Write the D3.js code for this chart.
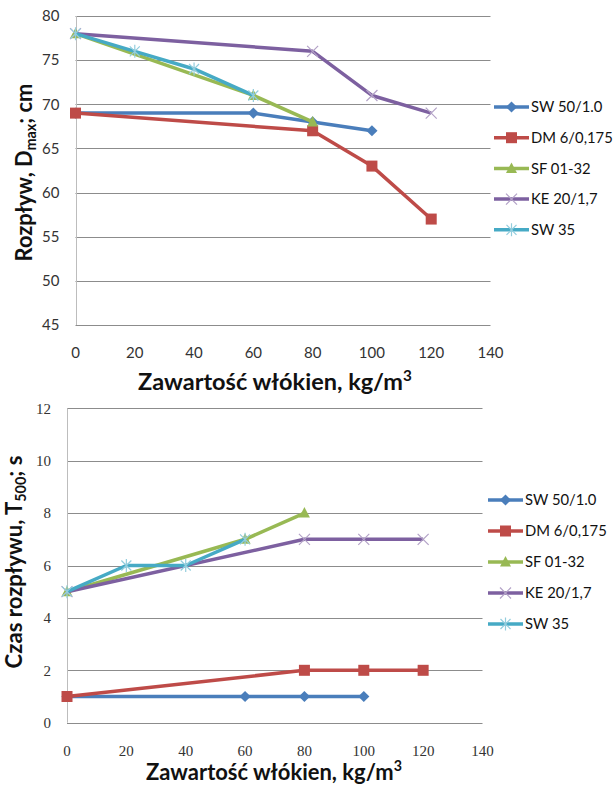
<!DOCTYPE html>
<html><head><meta charset="utf-8">
<script src="https://cdn.jsdelivr.net/npm/d3@7"></script>
<style>body{margin:0;background:#fff}svg{display:block}</style>
</head><body>
<script>
const seriesNames = ["SW 50/1.0", "DM 6/0,175", "SF 01-32", "KE 20/1,7", "SW 35"];
const seriesColors = ["#4A7EBB", "#BE4B48", "#98B954", "#7D60A0", "#46AAC5"];
const markerColors = ["#4A7EBB", "#BE4B48", "#98B954", "#B3A2C7", "#93CDDD"];
const markerTypes = ["diamond", "square", "triangle", "x", "star"];

// Top chart: Rozpływ D_max (cm)
const topSW50 = [[0,69],[60,69],[80,68],[100,67]];
const topDM = [[0,69],[80,67],[100,63],[120,57]];
const topSF = [[0,78],[60,71],[80,68]];
const topKE = [[0,78],[80,76],[100,71],[120,69]];
const topSW35 = [[0,78],[20,76],[40,74],[60,71]];
const topYTicks = [45,50,55,60,65,70,75,80];

// Bottom chart: Czas rozpływu T500 (s)
const botSW50 = [[0,1],[60,1],[80,1],[100,1]];
const botDM = [[0,1],[80,2],[100,2],[120,2]];
const botSF = [[0,5],[60,7],[80,8]];
const botKE = [[0,5],[80,7],[100,7],[120,7]];
const botSW35 = [[0,5],[20,6],[40,6],[60,7]];
const botYTicks = [0,2,4,6,8,10,12];

const xTicks = [0,20,40,60,80,100,120,140];

const svg = d3.select("body").append("svg").attr("width",614).attr("height",785);

function marker(g, type, x, y, color){
  if(type==="diamond"){
    g.append("path").attr("d",d3.symbol(d3.symbolDiamond2,80)()).attr("transform",`translate(${x},${y})`).attr("fill",color);
  } else if(type==="square"){
    g.append("rect").attr("x",x-5.5).attr("y",y-5.5).attr("width",11).attr("height",11).attr("fill",color);
  } else if(type==="triangle"){
    g.append("path").attr("d",`M${x},${y-6}L${x+5.5},${y+4.5}L${x-5.5},${y+4.5}Z`).attr("fill",color);
  } else if(type==="x"){
    g.append("path").attr("d",`M${x-5.5},${y-5.5}L${x+5.5},${y+5.5}M${x-5.5},${y+5.5}L${x+5.5},${y-5.5}`).attr("stroke",color).attr("stroke-width",1.2).attr("fill","none");
  } else if(type==="star"){
    g.append("path").attr("d",`M${x-5},${y-5}L${x+5},${y+5}M${x-5},${y+5}L${x+5},${y-5}M${x},${y-6.5}L${x},${y+6.5}`).attr("stroke",color).attr("stroke-width",1.2).attr("fill","none");
  }
}

function fit(text, target){
  const len = text.node().getComputedTextLength();
  const fs = parseFloat(text.attr("font-size"));
  const k = target/len;
  text.attr("font-size", fs*k);
  text.selectAll("tspan").each(function(){
    const t = d3.select(this);
    if(t.attr("font-size")) t.attr("font-size", parseFloat(t.attr("font-size"))*k);
    if(t.attr("dy")) t.attr("dy", parseFloat(t.attr("dy"))*k);
  });
}

function drawChart(cfg){
  const x = d3.scaleLinear().domain([0,140]).range([cfg.left,cfg.right]);
  const y = d3.scaleLinear().domain(cfg.yDomain).range([cfg.bottom,cfg.top]);
  const g = svg.append("g");
  // gridlines
  g.selectAll(".grid").data(cfg.yTicks).enter().append("line")
    .attr("x1",cfg.left).attr("x2",cfg.right)
    .attr("y1",d=>Math.round(y(d))+0.5).attr("y2",d=>Math.round(y(d))+0.5)
    .attr("stroke","#8C8C8C").attr("stroke-width",1);
  g.append("line").attr("x1",Math.round(cfg.left)+0.5).attr("x2",Math.round(cfg.left)+0.5)
    .attr("y1",cfg.top).attr("y2",cfg.bottom).attr("stroke","#BDBDBD");
  // tick labels
  g.selectAll(".yl").data(cfg.yTicks).enter().append("text")
    .attr("x",cfg.left-16).attr("y",d=>y(d)).attr("dy","0.35em")
    .attr("text-anchor","end").attr("font-family",cfg.tickFont).attr("font-size",cfg.tickSize)
    .attr("fill","#333").text(d=>d);
  g.selectAll(".xl").data(xTicks).enter().append("text")
    .attr("x",d=>x(d)).attr("y",cfg.bottom+28).attr("dy","0.35em")
    .attr("text-anchor","middle").attr("font-family",cfg.tickFont).attr("font-size",cfg.tickSize)
    .attr("fill","#333").text(d=>d);
  // series
  const line = d3.line().x(d=>x(d[0])).y(d=>y(d[1]));
  cfg.series.forEach((s,i)=>{
    g.append("path").datum(s).attr("d",line).attr("fill","none")
      .attr("stroke",seriesColors[i]).attr("stroke-width",3.5).attr("stroke-linejoin","round");
    s.forEach(p=>marker(g,markerTypes[i],x(p[0]),y(p[1]),markerColors[i]));
  });
  // legend
  seriesNames.forEach((n,i)=>{
    const ly = cfg.legY + i*cfg.legStep;
    g.append("line").attr("x1",cfg.legX).attr("x2",cfg.legX+35).attr("y1",ly).attr("y2",ly)
      .attr("stroke",seriesColors[i]).attr("stroke-width",3.5);
    marker(g,markerTypes[i],cfg.legX+17.5,ly,markerColors[i]);
    g.append("text").attr("x",cfg.legX+37).attr("y",ly).attr("dy","0.35em")
      .attr("font-family","Lato, 'Open Sans', sans-serif").attr("font-size",14.8).attr("fill","#111").text(n);
  });
  // x title
  const xt = g.append("text").attr("x",cfg.xTitleX).attr("y",cfg.xTitleY)
    .attr("text-anchor","middle").attr("font-family","Lato, sans-serif").attr("font-weight","bold")
    .attr("font-size",20).attr("fill","#111");
  xt.append("tspan").text("Zawartość włókien, kg/m");
  xt.append("tspan").attr("font-size",13).attr("dy",-8).text("3");
  fit(xt, cfg.xTitleLen);
  // y title
  const yt = g.append("text").attr("transform",`translate(${cfg.yTitleX},${cfg.yTitleY}) rotate(-90)`)
    .attr("text-anchor","middle").attr("font-family","Lato, sans-serif").attr("font-weight","bold")
    .attr("font-size",20).attr("fill","#111");
  yt.append("tspan").text(cfg.yTitle[0]);
  yt.append("tspan").attr("font-size",13).attr("dy",4).text(cfg.yTitle[1]);
  yt.append("tspan").attr("dy",-4).text(cfg.yTitle[2]);
  fit(yt, cfg.yTitleLen);
}

drawChart({
  left:75.5, right:490.5, top:16, bottom:325, yDomain:[45,80], yTicks:topYTicks,
  tickFont:"Lato, sans-serif", tickSize:15,
  series:[topSW50,topDM,topSF,topKE,topSW35],
  legX:494, legY:107, legStep:30.7,
  xTitleX:275, xTitleY:390, xTitleLen:274,
  yTitleX:32, yTitleY:172.5, yTitleLen:178,
  yTitle:["Rozpływ, D","max","; cm"]
});
drawChart({
  left:67, right:482.5, top:408.3, bottom:722.7, yDomain:[0,12], yTicks:botYTicks,
  tickFont:"'Liberation Serif', serif", tickSize:15,
  series:[botSW50,botDM,botSF,botKE,botSW35],
  legX:488, legY:500, legStep:31,
  xTitleX:274, xTitleY:780, xTitleLen:256,
  yTitleX:22, yTitleY:562, yTitleLen:213,
  yTitle:["Czas rozpływu, T","500","; s"]
});
</script>
</body></html>
